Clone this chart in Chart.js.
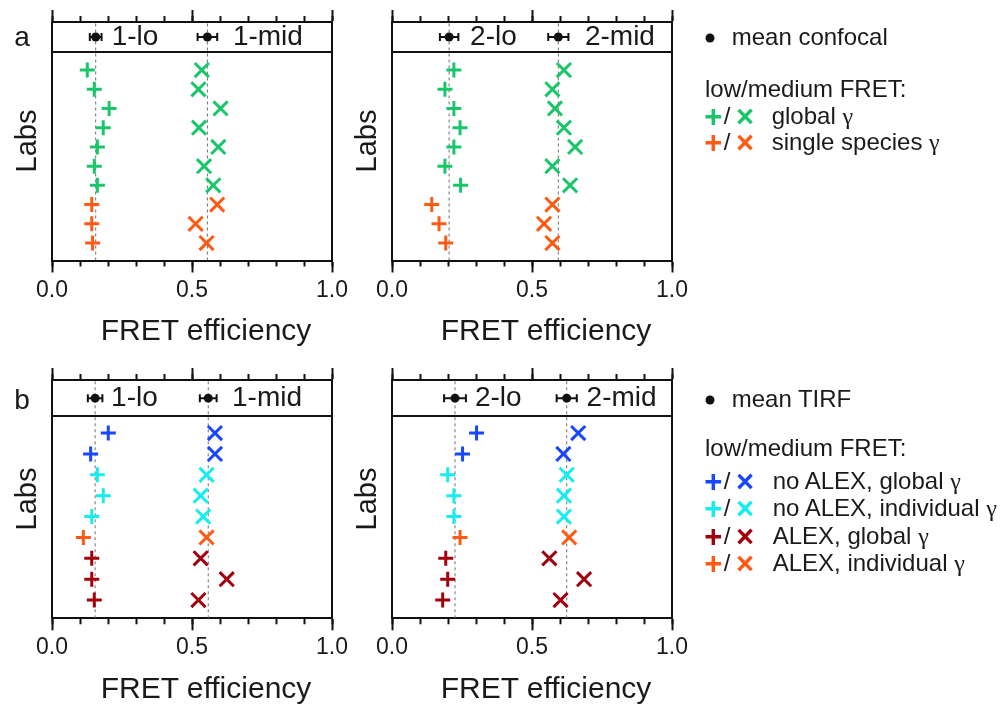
<!DOCTYPE html>
<html>
<head>
<meta charset="utf-8">
<script src="https://cdn.jsdelivr.net/npm/chart.js@4/dist/chart.umd.min.js"></script>
<style>
  body { margin: 0; background: #fff; }
  #page { position: relative; width: 1000px; height: 709px; overflow: hidden;
          font-family: 'Liberation Sans', Arial, sans-serif; color: #1a1a1a; }
  #page canvas { position: absolute; left: 0; top: 0; }
  .t { position: absolute; white-space: nowrap; line-height: 1; }
  .c { transform: translate(-50%, -50%); }
  .l { transform: translateY(-50%); }
  .rot { transform: translate(-50%, -50%) rotate(-90deg); }
  .g { font-family: 'Liberation Serif', serif; }
  .dot { position: absolute; width: 9px; height: 9px; border-radius: 50%; background: #111;
         transform: translate(-50%, -50%); }
</style>
</head>
<body>
<div id="page">
  <canvas id="pA1" width="1000" height="709"></canvas>
  <canvas id="pA2" width="1000" height="709"></canvas>
  <canvas id="pB1" width="1000" height="709"></canvas>
  <canvas id="pB2" width="1000" height="709"></canvas>
</div>
<script>
// ---- data (labs listed top to bottom) ----
const xTickLabels = ['0.0', '0.5', '1.0'];
const namesS1 = ['1-lo', '1-mid'];
const namesS2 = ['2-lo', '2-mid'];

// confocal
const confMethod = ['global', 'global', 'global', 'global', 'global', 'global', 'global', 'single', 'single', 'single'];
const conf1Lo  = [0.126, 0.151, 0.204, 0.183, 0.162, 0.151, 0.162, 0.142, 0.142, 0.145];
const conf1Mid = [0.535, 0.523, 0.602, 0.525, 0.594, 0.543, 0.576, 0.590, 0.513, 0.552];
const conf2Lo  = [0.221, 0.189, 0.221, 0.243, 0.221, 0.189, 0.245, 0.142, 0.168, 0.192];
const conf2Mid = [0.614, 0.573, 0.582, 0.614, 0.654, 0.573, 0.636, 0.573, 0.543, 0.573];
const conf1Mean = [0.156, 0.555];
const conf1Err  = [0.021, 0.035];
const conf2Mean = [0.204, 0.594];
const conf2Err  = [0.033, 0.036];

// TIRF
const tirfMethod = ['noAlexGlobal', 'noAlexGlobal', 'noAlexInd', 'noAlexInd', 'noAlexInd', 'alexInd', 'alexGlobal', 'alexGlobal', 'alexGlobal'];
const tirf1Lo  = [0.201, 0.138, 0.162, 0.183, 0.142, 0.112, 0.142, 0.142, 0.151];
const tirf1Mid = [0.582, 0.582, 0.552, 0.531, 0.540, 0.552, 0.531, 0.624, 0.523];
const tirf2Lo  = [0.302, 0.252, 0.199, 0.221, 0.221, 0.243, 0.192, 0.199, 0.181];
const tirf2Mid = [0.665, 0.612, 0.624, 0.614, 0.614, 0.633, 0.562, 0.686, 0.602];
const tirf1Mean = [0.154, 0.558];
const tirf1Err  = [0.026, 0.030];
const tirf2Mean = [0.225, 0.624];
const tirf2Err  = [0.039, 0.036];

const palette = {
  global: '#19c66a', single: '#ff5a14',
  noAlexGlobal: '#1747ff', noAlexInd: '#14eeee',
  alexGlobal: '#a3000d', alexInd: '#ff5a14'
};

const FONT = "'Liberation Sans', Arial, sans-serif";
const INK = '#111';

// header strip: separator line + sample names
const headerPlugin = {
  id: 'header',
  beforeDatasetsDraw(chart, args, opts) {
    const { ctx, chartArea, scales } = chart;
    const y = scales.y.getPixelForValue(opts.edge);
    ctx.save();
    ctx.strokeStyle = INK;
    ctx.lineWidth = 2;
    ctx.beginPath();
    ctx.moveTo(chartArea.left, y);
    ctx.lineTo(chartArea.right, y);
    ctx.stroke();
    ctx.restore();
  },
  afterDatasetsDraw(chart, args, opts) {
    const { ctx, scales } = chart;
    ctx.save();
    ctx.fillStyle = '#1a1a1a';
    ctx.font = '28px ' + FONT;
    ctx.textBaseline = 'middle';
    ctx.textAlign = 'left';
    opts.names.forEach((nm, k) => {
      ctx.fillText(nm, scales.x.getPixelForValue(opts.textAt[k]), scales.y.getPixelForValue(opts.mid));
    });
    ctx.restore();
  }
};

function xAxis(pos, step, len, weight, h, labels) {
  return {
    type: 'linear', axis: 'x', position: pos, min: 0, max: 1, weight: weight,
    ticks: labels ? {
      stepSize: step, padding: 4, color: '#1a1a1a', maxRotation: 0, autoSkip: false,
      font: { family: FONT, size: 23 },
      callback: (v, i) => xTickLabels[i]
    } : { stepSize: step, display: false },
    grid: { drawOnChartArea: false, tickLength: len, tickWidth: 2, tickColor: INK },
    border: { display: true, width: 2, color: INK },
    afterFit: s => { s.height = h; }
  };
}

function yAxis(pos, yMin, yMax) {
  return {
    type: 'linear', axis: 'y', position: pos, min: yMin, max: yMax,
    ticks: { display: false },
    grid: { drawOnChartArea: false, drawTicks: false },
    border: { display: true, width: 2, color: INK },
    afterFit: s => { s.width = 0; }
  };
}

function drawPanel(id, box, o) {
  const n = o.lo.length;
  const ds = [];
  o.mean.forEach((m, k) => {
    ds.push({ type: 'line', data: [{ x: m, y: o.yMin }, { x: m, y: o.yMax }],
      borderColor: '#707070', borderWidth: 1, borderDash: [3, 3], pointRadius: 0, order: 9 });
    ds.push({ type: 'line', data: [{ x: m - o.err[k], y: o.mid }, { x: m + o.err[k], y: o.mid }],
      borderColor: INK, borderWidth: 2, pointStyle: 'line', rotation: 90, pointRadius: 4,
      pointBorderWidth: 2, pointBorderColor: INK, order: 3 });
    ds.push({ type: 'scatter', data: [{ x: m, y: o.mid }], pointRadius: 4.5,
      pointBackgroundColor: INK, pointBorderColor: INK, pointBorderWidth: 0, order: 2 });
  });
  ds.push({ type: 'scatter', data: o.lo.map((v, i) => ({ x: v, y: n - i })),
    pointStyle: 'cross', pointRadius: 7.5, pointBorderWidth: 3,
    pointBorderColor: o.method.map(g => palette[g]), order: 1 });
  ds.push({ type: 'scatter', data: o.midVals.map((v, i) => ({ x: v, y: n - i })),
    pointStyle: 'crossRot', pointRadius: 10, pointBorderWidth: 3,
    pointBorderColor: o.method.map(g => palette[g]), order: 1 });

  new Chart(document.getElementById(id), {
    type: 'scatter',
    data: { datasets: ds },
    options: {
      responsive: false, animation: false, events: [], devicePixelRatio: 1,
      layout: { padding: { left: box.left, right: 1000 - box.right, top: box.top - 12, bottom: 709 - box.bottom - 60 } },
      plugins: {
        legend: { display: false }, tooltip: { enabled: false },
        header: { edge: o.edge, mid: o.mid, names: o.names, textAt: o.textAt }
      },
      scales: {
        x: xAxis('bottom', 0.5, 12, 1, 60, true),
        xMinor: xAxis('bottom', 0.1, 6, 0, 0, false),
        xTop: xAxis('top', 0.5, 12, 1, 12, false),
        xTopMinor: xAxis('top', 0.1, 6, 0, 0, false),
        y: yAxis('left', o.yMin, o.yMax),
        yRight: yAxis('right', o.yMin, o.yMax)
      }
    },
    plugins: [headerPlugin]
  });
}

const confY = { yMin: 0.09, yMax: 12.5, edge: 10.94, mid: 11.72 };
const tirfY = { yMin: 0.124, yMax: 11.54, edge: 9.81, mid: 10.67 };

drawPanel('pA1', { left: 52, right: 332, top: 22, bottom: 260.5 },
  Object.assign({ lo: conf1Lo, midVals: conf1Mid, method: confMethod, mean: conf1Mean, err: conf1Err,
    names: namesS1, textAt: [0.213, 0.646] }, confY));
drawPanel('pA2', { left: 392, right: 672, top: 22, bottom: 260.5 },
  Object.assign({ lo: conf2Lo, midVals: conf2Mid, method: confMethod, mean: conf2Mean, err: conf2Err,
    names: namesS2, textAt: [0.279, 0.689] }, confY));
drawPanel('pB1', { left: 52, right: 332, top: 380, bottom: 618.3 },
  Object.assign({ lo: tirf1Lo, midVals: tirf1Mid, method: tirfMethod, mean: tirf1Mean, err: tirf1Err,
    names: namesS1, textAt: [0.211, 0.643] }, tirfY));
drawPanel('pB2', { left: 392, right: 672, top: 380, bottom: 618.3 },
  Object.assign({ lo: tirf2Lo, midVals: tirf2Mid, method: tirfMethod, mean: tirf2Mean, err: tirf2Err,
    names: namesS2, textAt: [0.296, 0.695] }, tirfY));

// ---- text around the panels ----
const page = document.getElementById('page');
function put(html, x, y, cls, size, extra) {
  const d = document.createElement('div');
  d.className = 't ' + cls;
  d.innerHTML = html;
  d.style.left = x + 'px';
  d.style.top = y + 'px';
  d.style.fontSize = size + 'px';
  if (extra) Object.assign(d.style, extra);
  page.appendChild(d);
  return d;
}

put('a', 22, 37, 'c', 28);
put('b', 22, 400, 'c', 28);
[[26, 141], [366, 141], [26, 499], [366, 499]].forEach(p => put('Labs', p[0], p[1], 'rot', 29));
[[206, 330], [546, 330], [206, 688], [546, 688]].forEach(p => put('FRET efficiency', p[0], p[1], 'c', 30));

function legendRow(y, key, label, tx) {
  const col = palette[key];
  put('+', 713.3, y, 'c', 31, { color: col, fontWeight: 'bold' });
  put('/', 727, y, 'c', 24);
  put('\u00d7', 745, y, 'c', 31, { color: col, fontWeight: 'bold' });
  put(label + ' <span class="g">\u03b3</span>', tx, y, 'l', 24);
}
function legendDot(x, y) {
  const d = document.createElement('div');
  d.className = 'dot';
  d.style.left = x + 'px';
  d.style.top = y + 'px';
  page.appendChild(d);
}

legendDot(710, 38);
put('mean confocal', 731.7, 37, 'l', 24);
put('low/medium FRET:', 705, 88.5, 'l', 24);
legendRow(115.5, 'global', 'global', 771.7);
legendRow(142, 'single', 'single species', 771.7);

legendDot(710, 400);
put('mean TIRF', 731.7, 398.5, 'l', 24);
put('low/medium FRET:', 705, 448.3, 'l', 24);
legendRow(481, 'noAlexGlobal', 'no ALEX, global', 772.7);
legendRow(508.3, 'noAlexInd', 'no ALEX, individual', 772.7);
legendRow(536, 'alexGlobal', 'ALEX, global', 772.7);
legendRow(563.3, 'alexInd', 'ALEX, individual', 772.7);
</script>
</body>
</html>
